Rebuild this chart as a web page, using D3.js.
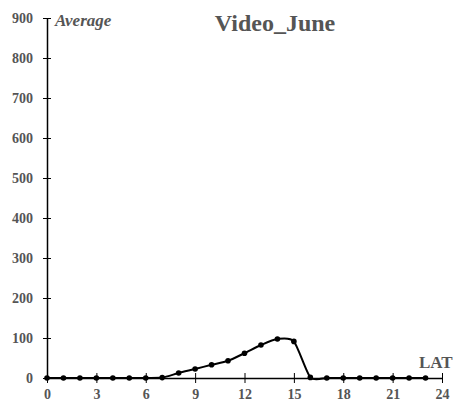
<!DOCTYPE html>
<html>
<head>
<meta charset="utf-8">
<script src="https://cdn.jsdelivr.net/npm/d3@7"></script>
<style>
  body { margin: 0; background: #fff; }
  text { font-family: "Liberation Serif", "Times New Roman", serif; font-weight: bold; fill: #555; }
</style>
</head>
<body>
<div id="chart"></div>
<script>
const hours = [0, 1, 2, 3, 4, 5, 6, 7, 8, 9, 10, 11, 12, 13, 14, 15, 16, 17, 18, 19, 20, 21, 22, 23];
const average = [0, 0, 0, 0, 0, 0, 0, 1, 12.5, 22.5, 33, 43, 62, 82.5, 97.5, 91.5, 1.5, 0, 0, 0, 0, 0, 0, 0];
const xTicks = [0, 3, 6, 9, 12, 15, 18, 21, 24];
const yTicks = [0, 100, 200, 300, 400, 500, 600, 700, 800, 900];
const title = 'Video_June';

const dims = {
    width: 456,
    height: 403,
    margin: { top: 18, right: 14, bottom: 25, left: 47 },
};
dims.boundedWidth = dims.width - dims.margin.left - dims.margin.right;
dims.boundedHeight = dims.height - dims.margin.top - dims.margin.bottom;

const svg = d3.select('#chart')
    .append('svg')
    .attr('width', dims.width)
    .attr('height', dims.height);

const bounds = svg.append('g')
    .attr('transform', `translate(${dims.margin.left}, ${dims.margin.top})`);

const xScale = d3.scaleLinear()
    .domain([0, 24])
    .range([0, dims.boundedWidth]);

const yScale = d3.scaleLinear()
    .domain([0, 900])
    .range([dims.boundedHeight, 0]);

// axes: ticks cross the axis line
const xAxis = d3.axisBottom(xScale)
    .tickValues(xTicks)
    .tickSizeInner(5)
    .tickSizeOuter(0)
    .tickPadding(6);

const xg = bounds.append('g')
    .attr('transform', `translate(0, ${dims.boundedHeight})`)
    .call(xAxis);
xg.selectAll('.tick line').attr('y1', -5).attr('y2', 5).attr('stroke', '#000');
xg.select('.domain').attr('stroke', '#000').attr('stroke-width', 1.5);
xg.selectAll('text')
    .style('font-size', '14px')
    .style('font-family', '"Liberation Serif", serif')
    .style('font-weight', 'bold')
    .attr('fill', '#555');

const yAxis = d3.axisLeft(yScale)
    .tickValues(yTicks)
    .tickSizeInner(4)
    .tickSizeOuter(0)
    .tickPadding(10);

const yg = bounds.append('g').call(yAxis);
yg.selectAll('.tick line').attr('x1', -4).attr('x2', 4).attr('stroke', '#000');
yg.select('.domain').attr('stroke', '#000').attr('stroke-width', 1.5);
yg.selectAll('text')
    .style('font-size', '14px')
    .style('font-family', '"Liberation Serif", serif')
    .style('font-weight', 'bold')
    .attr('fill', '#555');

const data = hours.map((h, i) => ({ hour: h, value: average[i] }));

const line = d3.line()
    .x(d => xScale(d.hour))
    .y(d => yScale(d.value))
    .curve(d3.curveCardinal.tension(0.3));

bounds.append('path')
    .attr('d', line(data))
    .attr('fill', 'none')
    .attr('stroke', '#000')
    .attr('stroke-width', 2);

bounds.selectAll('circle')
    .data(data)
    .join('circle')
    .attr('cx', d => xScale(d.hour))
    .attr('cy', d => yScale(d.value))
    .attr('r', 2.8)
    .attr('fill', '#000');

// labels
svg.append('text')
    .attr('x', 275)
    .attr('y', 31)
    .attr('text-anchor', 'middle')
    .style('font-size', '24px')
    .text(title);

svg.append('text')
    .attr('x', 55)
    .attr('y', 26)
    .style('font-size', '17px')
    .style('font-style', 'italic')
    .text('Average');

svg.append('text')
    .attr('x', 419)
    .attr('y', 368)
    .style('font-size', '17px')
    .text('LAT');
</script>
</body>
</html>
